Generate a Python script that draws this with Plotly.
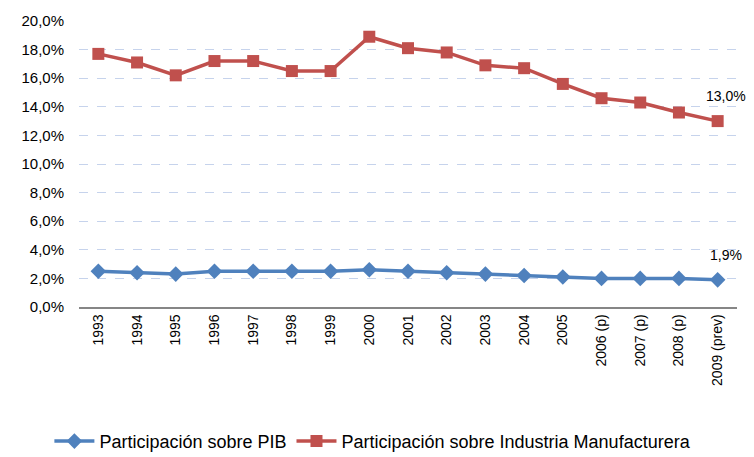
import plotly.graph_objects as go

categories = ["1993", "1994", "1995", "1996", "1997", "1998", "1999", "2000", "2001",
              "2002", "2003", "2004", "2005", "2006 (p)", "2007 (p)", "2008 (p)", "2009 (prev)"]
pib = [2.5, 2.4, 2.3, 2.5, 2.5, 2.5, 2.5, 2.6, 2.5, 2.4, 2.3, 2.2, 2.1, 2.0, 2.0, 2.0, 1.9]
industria = [17.7, 17.1, 16.2, 17.2, 17.2, 16.5, 16.5, 18.9, 18.1, 17.8, 16.9, 16.7, 15.6, 14.6, 14.3, 13.6, 13.0]
y_ticks = [0, 2, 4, 6, 8, 10, 12, 14, 16, 18, 20]

font_family = "Liberation Sans Narrow, Liberation Sans, Arial"

fig = go.Figure()
fig.add_trace(go.Scatter(
    x=categories, y=[v / 100 for v in pib], mode="lines+markers",
    name="Participación sobre PIB",
    line=dict(color="#4F81BD", width=3.5),
    marker=dict(symbol="diamond", size=12, color="#4F81BD"),
))
fig.add_trace(go.Scatter(
    x=categories, y=[v / 100 for v in industria], mode="lines+markers",
    name="Participación sobre Industria Manufacturera",
    line=dict(color="#C0504D", width=3.5),
    marker=dict(symbol="square", size=12, color="#C0504D"),
))

for series in (pib, industria):
    fig.add_annotation(
        x=categories[-1], y=series[-1] / 100, text=f"{series[-1]:.1f}".replace(".", ",") + "%",
        showarrow=False, yshift=25, xshift=8,
        font=dict(family=font_family, size=14, color="#000000"),
    )

fig.update_layout(
    width=746, height=449,
    margin=dict(l=71, r=17, t=13, b=150, autoexpand=False),
    paper_bgcolor="white", plot_bgcolor="white",
    separators=",.",
    font=dict(family=font_family, size=12, color="#000000"),
    showlegend=True,
    legend=dict(orientation="h", x=-0.045, xanchor="left", y=-0.47, yanchor="middle",
                font=dict(family=font_family, size=18), itemwidth=40),
    xaxis=dict(
        type="category", tickangle=-90, showgrid=False, automargin=False,
        showline=True, linecolor="#868686", linewidth=1.5,
        ticks="", range=[-0.5, len(categories) - 0.5],
        tickfont=dict(family=font_family, size=14),
    ),
    yaxis=dict(
        range=[0, 0.2], tickvals=[t / 100 for t in y_ticks], tickformat=".1%",
        showgrid=True, gridcolor="#C6D3EC", griddash="dash", gridwidth=1,
        zeroline=False, showline=False, ticks="", automargin=False,
        ticklabelstandoff=14,
        tickfont=dict(family=font_family, size=15),
    ),
)

fig.write_html("out.html")
